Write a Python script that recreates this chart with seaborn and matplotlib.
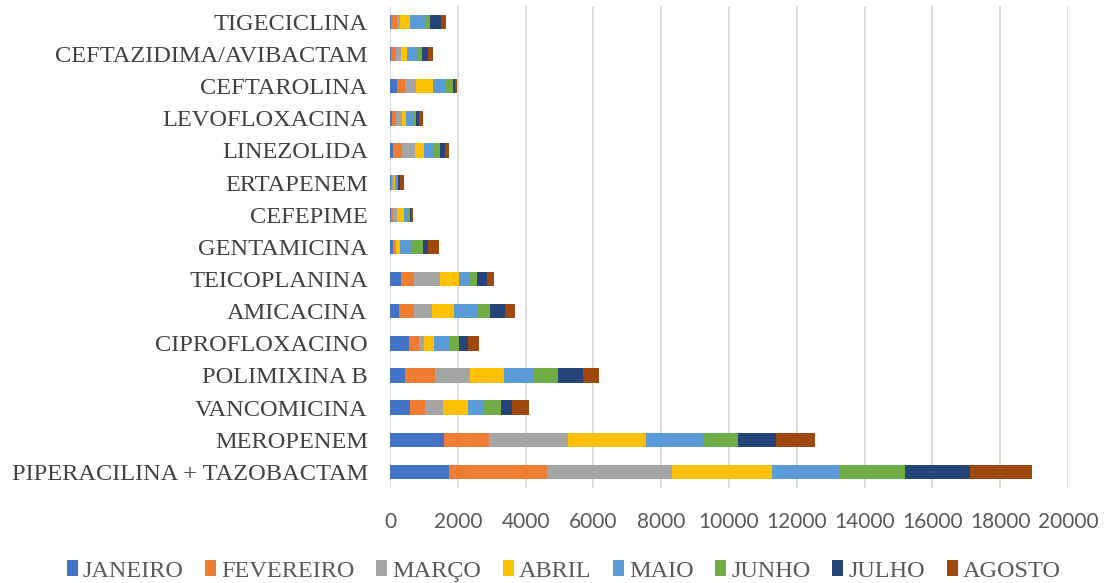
import numpy as np
import pandas as pd
import matplotlib
matplotlib.use("Agg")
import matplotlib.pyplot as plt
import seaborn as sns
from matplotlib.patches import Patch

# Antibiotic consumption per month (units), top to bottom order on the chart
drugs = [
    "TIGECICLINA", "CEFTAZIDIMA/AVIBACTAM", "CEFTAROLINA", "LEVOFLOXACINA",
    "LINEZOLIDA", "ERTAPENEM", "CEFEPIME", "GENTAMICINA", "TEICOPLANINA",
    "AMICACINA", "CIPROFLOXACINO", "POLIMIXINA B", "VANCOMICINA",
    "MEROPENEM", "PIPERACILINA + TAZOBACTAM",
]
months = ["JANEIRO", "FEVEREIRO", "MARÇO", "ABRIL", "MAIO", "JUNHO", "JULHO", "AGOSTO"]

janeiro   = [40, 20, 217, 49, 99, 20, 20, 88, 325, 276, 571, 443, 601, 1580, 1724]
fevereiro = [158, 147, 236, 128, 266, 49, 69, 49, 374, 433, 286, 897, 443, 1340, 2908]
marco     = [99, 147, 325, 167, 384, 59, 128, 30, 778, 522, 148, 1025, 532, 2320, 3684]
abril     = [296, 187, 483, 138, 256, 20, 197, 138, 561, 650, 296, 985, 709, 2310, 2961]
maio      = [424, 334, 384, 206, 305, 59, 118, 324, 335, 670, 424, 857, 493, 1710, 1974]
junho     = [158, 118, 197, 89, 167, 30, 59, 334, 197, 394, 315, 759, 502, 1010, 1934]
julho     = [315, 177, 69, 79, 158, 59, 39, 157, 276, 433, 266, 719, 305, 1120, 1934]
agosto    = [148, 147, 59, 108, 89, 128, 59, 315, 207, 315, 325, 473, 522, 1140, 1816]

series = [janeiro, fevereiro, marco, abril, maio, junho, julho, agosto]
colors = ["#4472C4", "#ED7D31", "#A5A5A5", "#FFC000",
          "#5B9BD5", "#70AD47", "#264478", "#9E480E"]
xticks = list(range(0, 20001, 2000))

df = pd.DataFrame(dict(zip(months, series)), index=drugs)
cum = df.cumsum(axis=1)

sns.set_theme(style="white")
plt.rcParams["font.family"] = ["Liberation Serif", "DejaVu Serif"]

fig = plt.figure(figsize=(11.05, 5.83), dpi=100)
ax = fig.add_axes([0.353, 0.163, 0.6135, 0.827])

# Stacked bars: draw cumulative totals from the last month backwards
for month, color in reversed(list(zip(months, colors))):
    sns.barplot(x=cum[month].values, y=drugs, orient="h", color=color,
                saturation=1, width=0.45, linewidth=0, ax=ax, order=drugs)

ax.set_xlim(0, 20000)
ax.set_xticks(xticks)
ax.set_xticklabels([str(t) for t in xticks], fontsize=15, color="#595959",
                   fontfamily="Lato")
ax.set_yticklabels(drugs, fontsize=17.6, color="#404040")
ax.tick_params(axis="both", length=0)
ax.tick_params(axis="x", pad=17)
ax.tick_params(axis="y", pad=16)
ax.set_ylim(14.5, -0.5)
ax.xaxis.grid(True, color="#D9D9D9", linewidth=1.3)
ax.set_axisbelow(True)
for side in ["top", "right", "bottom", "left"]:
    ax.spines[side].set_visible(False)
ax.set_xlabel("")
ax.set_ylabel("")

handles = [Patch(facecolor=c, edgecolor="none") for c in colors]
fig.legend(handles, months, loc="lower center", bbox_to_anchor=(0.51, -0.035),
           ncol=8, frameon=False, fontsize=17.5, handlelength=0.45,
           handleheight=0.6, handletextpad=0.2, columnspacing=0.9,
           labelcolor="#595959")

fig.savefig("out.png", dpi=100)
